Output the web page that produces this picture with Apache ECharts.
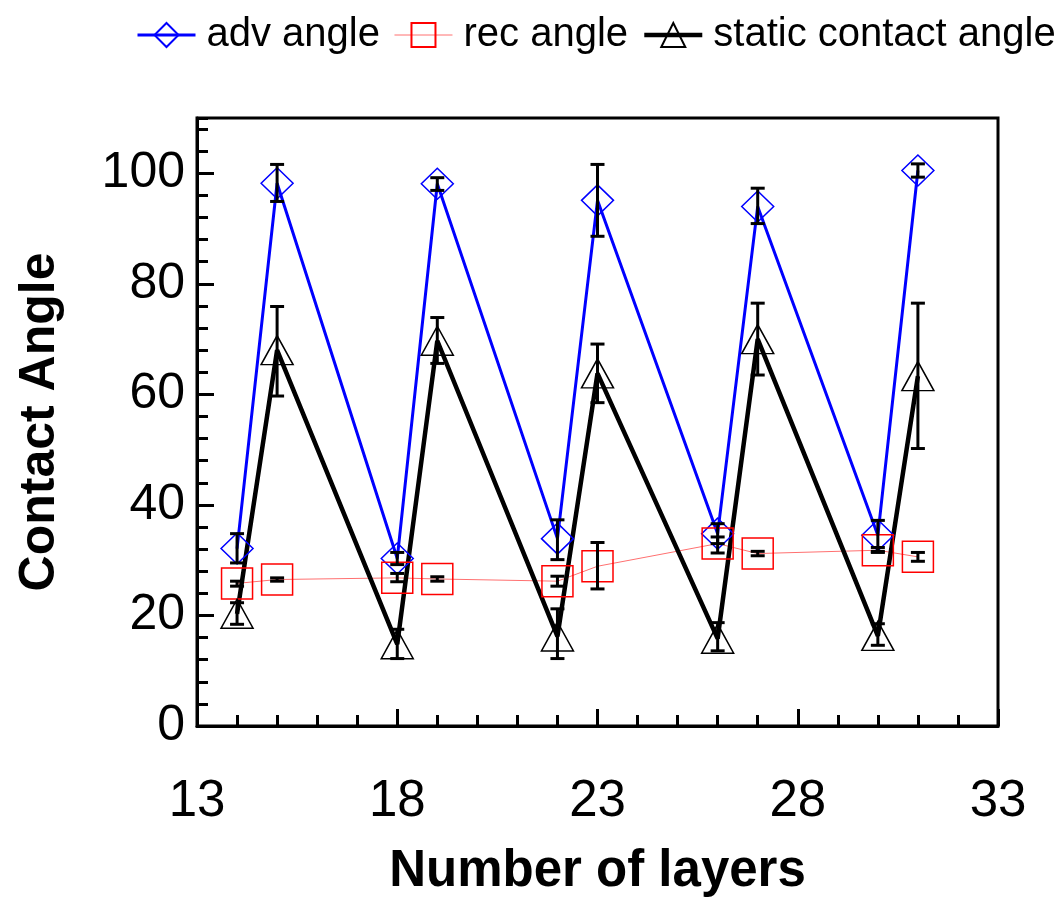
<!DOCTYPE html>
<html>
<head>
<meta charset="utf-8">
<script src="https://cdn.jsdelivr.net/npm/echarts@6/dist/echarts.min.js"></script>
<style>
  html, body { margin: 0; padding: 0; background: #fff; }
  #chart { width: 1062px; height: 897px; }
</style>
</head>
<body>
<div id="chart"></div>
<script>
// number of layers
var layers = [14, 15, 18, 19, 22, 23, 26, 27, 30, 31];

// advancing angle, mean and error range
var advAngle = [32.1, 98.2, 30.3, 98.1, 33.9, 95.1, 34.8, 94.0, 34.5, 100.5];
var advLow   = [29.5, 94.9, 29.2, 96.9, 30.1, 88.6, 33.0, 90.9, 31.6, 99.3];
var advHigh  = [34.8, 101.6, 31.4, 99.2, 37.3, 101.6, 36.6, 97.3, 37.2, 101.7];

// receding angle
var recAngle = [25.8, 26.5, 26.8, 26.6, 26.2, 28.9, 33.0, 31.2, 31.8, 30.6];
var recLow   = [25.3, 26.2, 26.1, 26.2, 25.3, 24.8, 31.3, 30.8, 31.4, 29.8];
var recHigh  = [26.2, 26.8, 27.6, 27.0, 27.1, 33.2, 34.2, 31.6, 32.3, 31.4];

// static contact angle
var staticAngle = [20.3, 68.0, 14.8, 69.7, 16.2, 63.8, 15.8, 70.0, 16.3, 63.3];
var staticLow   = [18.4, 59.7, 12.2, 65.6, 12.2, 58.5, 13.6, 63.5, 14.6, 50.2];
var staticHigh  = [22.3, 75.9, 17.5, 73.9, 21.2, 69.1, 18.7, 76.5, 18.5, 76.5];

var chart = echarts.init(document.getElementById('chart'));
var font = 'Liberation Sans';

function pairs (ys) {
  return layers.map(function (x, i) { return [x, ys[i]]; });
}
function errData (lo, hi) {
  return layers.map(function (x, i) { return [x, lo[i], hi[i]]; });
}
function renderErr (params, api) {
  var x = api.value(0);
  var top = api.coord([x, api.value(2)]);
  var bot = api.coord([x, api.value(1)]);
  var w = 7;
  var st = { stroke: '#000', lineWidth: 3 };
  return {
    type: 'group',
    children: [
      { type: 'line', shape: { x1: top[0], y1: top[1], x2: bot[0], y2: bot[1] }, style: st },
      { type: 'line', shape: { x1: top[0] - w, y1: top[1], x2: top[0] + w, y2: top[1] }, style: st },
      { type: 'line', shape: { x1: bot[0] - w, y1: bot[1], x2: bot[0] + w, y2: bot[1] }, style: st }
    ]
  };
}
function errSeries (lo, hi) {
  return {
    type: 'custom',
    renderItem: renderErr,
    data: errData(lo, hi),
    encode: { x: 0, y: [1, 2] },
    z: 10,
    silent: true
  };
}

chart.setOption({
  animation: false,
  textStyle: { fontFamily: font },
  legend: {
    left: 136,
    top: 15,
    width: 926,
    padding: 0,
    itemWidth: 58,
    itemHeight: 30,
    itemGap: 14,
    textStyle: { fontSize: 40, color: '#000', fontFamily: font, padding: [0, 0, 0, 6] },
    data: [
      { name: 'adv angle', lineStyle: { width: 3 } },
      { name: 'rec angle', lineStyle: { width: 1 } },
      { name: 'static contact angle', lineStyle: { width: 4.5 } }
    ]
  },
  grid: {
    left: 197, right: 64, top: 118, bottom: 171,
    outerBoundsMode: 'none',
    show: true, borderColor: '#000', borderWidth: 3, backgroundColor: 'transparent'
  },
  xAxis: [
    {
      type: 'value', min: 13, max: 33, interval: 5,
      name: 'Number of layers', nameLocation: 'middle', nameGap: 120,
      nameTextStyle: { fontSize: 51, fontWeight: 'bold', color: '#000', fontFamily: font },
      axisLine: { show: true, lineStyle: { color: '#000', width: 3 } },
      axisTick: { show: true, inside: true, length: 17, lineStyle: { color: '#000', width: 3 } },
      axisLabel: { fontSize: 51, color: '#000', margin: 50, fontFamily: font },
      splitLine: { show: false }
    },
    {
      type: 'value', min: 13, max: 33, interval: 1, position: 'bottom',
      axisLine: { show: false },
      axisTick: { show: true, inside: true, length: 11, lineStyle: { color: '#000', width: 3 } },
      axisLabel: { show: false },
      splitLine: { show: false }
    }
  ],
  yAxis: [
    {
      type: 'value', min: 0, max: 110, interval: 20,
      name: 'Contact Angle', nameLocation: 'middle', nameGap: 132,
      nameTextStyle: { fontSize: 50, fontWeight: 'bold', color: '#000', fontFamily: font },
      axisLine: { show: true, lineStyle: { color: '#000', width: 3 } },
      axisTick: { show: true, inside: true, length: 17, lineStyle: { color: '#000', width: 3 } },
      axisLabel: { fontSize: 50, color: '#000', margin: 12, showMaxLabel: false, fontFamily: font },
      splitLine: { show: false }
    },
    {
      type: 'value', min: 0, max: 110, interval: 4, position: 'left',
      axisLine: { show: false },
      axisTick: { show: true, inside: true, length: 11, lineStyle: { color: '#000', width: 3 } },
      axisLabel: { show: false },
      splitLine: { show: false }
    }
  ],
  series: [
    {
      name: 'adv angle', type: 'line', data: pairs(advAngle),
      symbol: 'diamond', symbolSize: [32, 31],
      lineStyle: { color: '#0000ff', width: 3 },
      itemStyle: { color: 'transparent', borderColor: '#0000ff', borderWidth: 1.5 },
      z: 3
    },
    {
      name: 'rec angle', type: 'line', data: pairs(recAngle),
      symbol: 'rect', symbolSize: 31,
      lineStyle: { color: '#ff7070', width: 1 },
      itemStyle: { color: 'transparent', borderColor: '#ff0000', borderWidth: 1.5 },
      z: 3
    },
    {
      name: 'static contact angle', type: 'line', data: pairs(staticAngle),
      symbol: 'triangle', symbolSize: [32, 29],
      lineStyle: { color: '#000', width: 4.5 },
      itemStyle: { color: 'transparent', borderColor: '#000', borderWidth: 1.5 },
      z: 3
    },
    errSeries(advLow, advHigh),
    errSeries(recLow, recHigh),
    errSeries(staticLow, staticHigh)
  ]
});
</script>
</body>
</html>
